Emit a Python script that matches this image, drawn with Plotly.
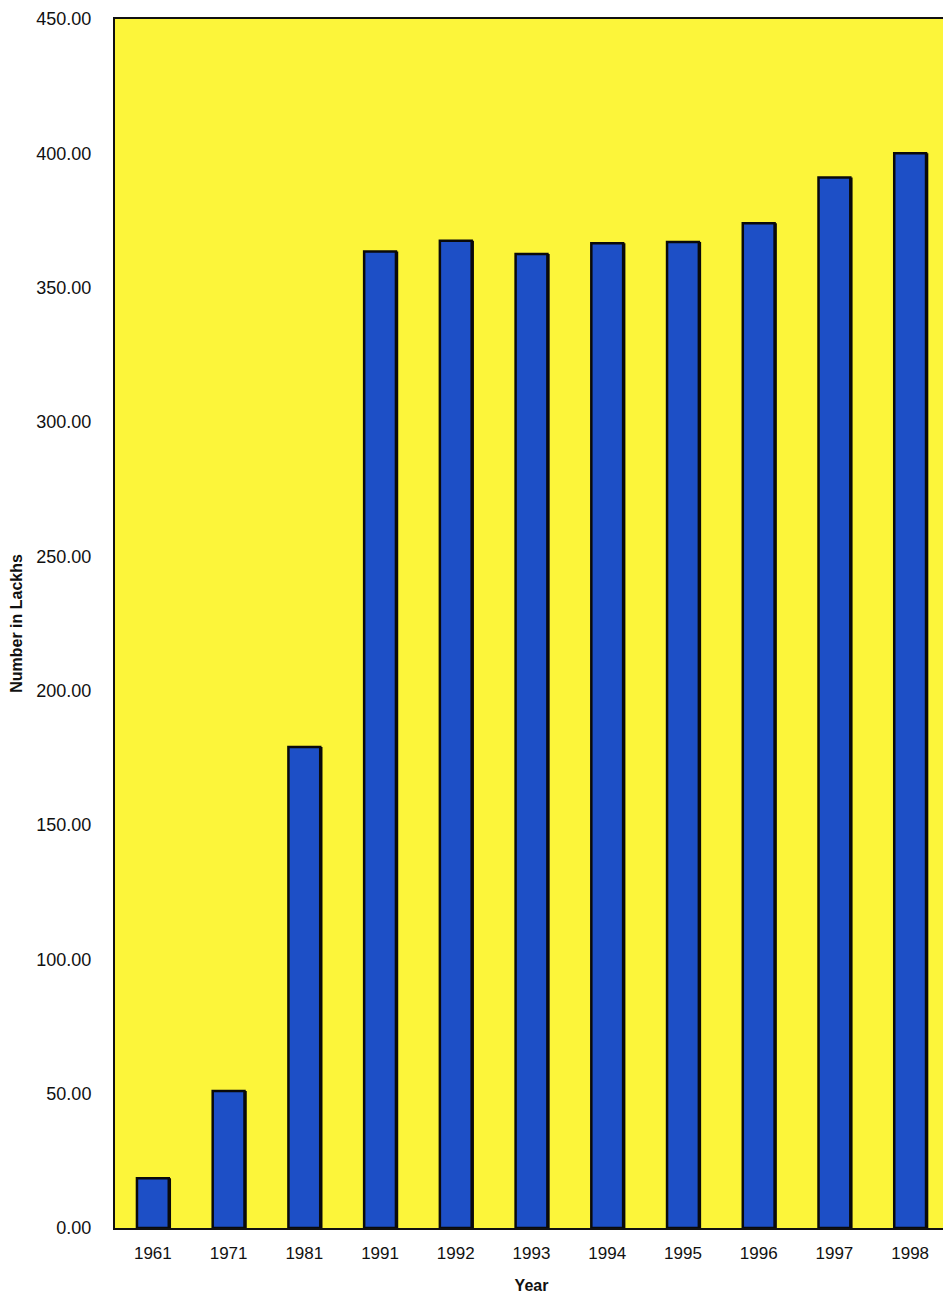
import plotly.graph_objects as go

years = ["1961", "1971", "1981", "1991", "1992", "1993", "1994", "1995", "1996", "1997", "1998"]
values = [18.5, 51.0, 179.0, 363.5, 367.5, 362.5, 366.5, 367.0, 374.0, 391.0, 400.0]
y_ticks = [0, 50, 100, 150, 200, 250, 300, 350, 400, 450]
y_tick_labels = ["%.2f" % v for v in y_ticks]

bar_w = 0.42

fig = go.Figure()
# dark drop shadow on the right edge of each bar
fig.add_trace(go.Bar(
    x=years, y=values,
    marker=dict(color="#0a0a0a", line=dict(width=0)),
    width=bar_w, offset=-bar_w / 2 + 0.03,
    hoverinfo="skip",
))
fig.add_trace(go.Bar(
    x=years, y=values,
    marker=dict(color="#1d4fc6", line=dict(color="#0a0a0a", width=2.5)),
    width=bar_w, offset=-bar_w / 2,
))

fig.update_layout(
    width=943, height=1290,
    margin=dict(l=107, r=3, t=11, b=70, autoexpand=False),
    barmode="overlay",
    paper_bgcolor="white",
    plot_bgcolor="#fcf53a",
    showlegend=False,
    font=dict(family="Arial, Liberation Sans, sans-serif", size=17, color="#111"),
    xaxis=dict(
        type="category", automargin=False,
        showline=True, linecolor="#111", linewidth=2, mirror=True,
        showgrid=False, ticks="", ticklabelstandoff=9,
        tickfont=dict(size=17),
        title=dict(text="<b>Year</b>", font=dict(size=16), standoff=17),
    ),
    yaxis=dict(
        range=[0, 450], automargin=False,
        tickvals=y_ticks, ticktext=y_tick_labels,
        showline=True, linecolor="#111", linewidth=2, mirror=True,
        showgrid=False, zeroline=False, ticks="", ticklabelstandoff=18,
        ticklabeloverflow="allow",
        tickfont=dict(size=18),
        title=dict(text="<b>Number in Lackhs</b>", font=dict(size=16), standoff=10),
    ),
)

fig.write_html("out.html")
